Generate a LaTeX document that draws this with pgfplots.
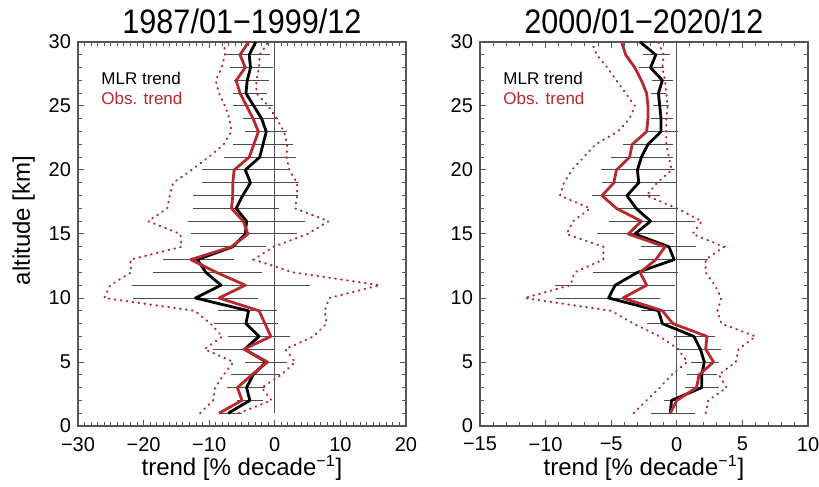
\documentclass[border=0pt]{standalone}
\usepackage{fontspec}
\setmainfont{Liberation Sans}
\newfontfamily\titlefont{Liberation Sans}[FakeStretch=0.9]
\usepackage{pgfplots}
\usepackage{pgfplotstable}
\pgfplotsset{compat=1.18}
\definecolor{obsred}{HTML}{B8282F}
\definecolor{axgray}{HTML}{555555}

% alt: km, mlr/obs: trend, lo/hi: dotted envelope, ec/ee: error bar centre and half width
\pgfplotstableread{
alt mlr obs lo hi ec ee
1 -7.1 -8.5 -11.4 -5.5 -6.70 1.75
2 -3.8 -5.0 -9.4 -0.5 -3.78 2.03
3 -4.3 -5.7 -9.1 -2.0 -4.40 2.90
4 -3.3 -3.5 -7.8 1.0 -2.90 3.70
5 -1.3 -1.1 -6.3 3.1 -1.40 3.20
6 -4.6 -4.7 -10.7 1.6 -4.65 4.75
7 -2.4 -0.6 -8.0 5.9 -2.45 4.75
8 -4.4 -1.5 -9.8 7.9 -4.40 4.90
9 -4.0 -2.4 -12.2 7.6 -4.15 4.45
10 -12.1 -8.5 -26.0 8.3 -12.05 9.55
11 -8.2 -4.5 -25.1 16.0 -8.20 13.50
12 -10.5 -8.9 -21.9 2.8 -10.25 8.25
13 -11.8 -12.8 -22.0 -3.2 -11.65 5.45
14 -6.4 -6.6 -14.2 -0.2 -6.40 5.00
15 -4.5 -4.1 -14.4 5.0 -4.70 8.10
16 -4.3 -4.8 -19.3 8.2 -4.30 8.90
17 -5.9 -6.6 -16.4 3.1 -5.90 6.50
18 -4.9 -6.4 -16.0 3.4 -4.45 8.05
19 -3.7 -6.4 -15.5 3.4 -3.70 7.40
20 -4.5 -6.2 -12.7 2.2 -4.50 6.60
21 -2.3 -3.9 -10.1 1.8 -2.25 5.45
22 -1.8 -3.2 -7.8 1.9 -1.80 4.50
23 -1.3 -2.5 -6.6 1.4 -1.35 3.15
24 -2.0 -3.3 -6.9 0.3 -2.20 2.70
25 -3.2 -4.3 -7.6 -1.0 -3.30 3.00
26 -4.4 -5.3 -8.5 -2.8 -3.75 2.55
27 -4.2 -5.9 -9.0 -2.8 -3.55 2.65
28 -3.7 -4.5 -8.1 -2.4 -3.55 3.35
29 -3.9 -5.3 -7.6 -2.3 -4.15 3.45
30 -2.9 -4.0 -7.7 -1.0 nan nan
}\early

\pgfplotstableread{
alt mlr obs lo hi ec ee
1 -0.5 -0.5 -3.3 2.2 -0.30 1.70
2 -0.4 0.0 -2.3 2.4 -0.55 0.45
3 1.9 1.5 -1.3 3.8 1.90 1.30
4 1.9 1.7 -0.4 3.2 1.95 1.15
5 2.1 2.8 0.8 4.5 2.15 1.05
6 1.8 2.2 0.1 4.7 1.80 1.60
7 1.3 2.3 -1.3 6.0 1.35 1.55
8 -1.1 -0.3 -3.3 3.4 -1.20 1.10
9 -1.4 -1.1 -5.0 3.1 -1.40 1.30
10 -5.2 -4.1 -11.6 3.4 -5.25 3.95
11 -4.7 -2.3 -8.1 2.9 -4.70 4.60
12 -3.0 -2.8 -7.8 2.2 -3.15 3.25
13 -0.2 -1.6 -5.6 2.2 -0.25 2.65
14 -0.6 -0.9 -5.6 3.6 -0.60 2.10
15 -3.2 -3.7 -8.4 1.2 -3.15 2.95
16 -2.0 -2.7 -7.9 1.9 -1.90 3.30
17 -3.1 -4.6 -6.6 0.0 -2.30 2.30
18 -3.8 -5.7 -8.9 -2.3 -3.90 2.60
19 -2.9 -4.8 -8.6 -1.5 -2.85 2.85
20 -3.0 -4.6 -8.0 -0.4 -2.95 2.85
21 -2.7 -3.6 -7.1 -0.6 -2.65 2.35
22 -2.2 -3.4 -6.2 -0.8 -2.20 1.90
23 -1.2 -2.3 -4.5 -0.8 -1.10 1.20
24 -1.2 -2.2 -3.6 -0.8 -1.15 0.85
25 -1.3 -2.2 -3.2 -0.7 -1.20 0.60
26 -1.4 -2.3 -3.9 -0.8 -1.40 0.60
27 -1.1 -2.7 -4.6 -0.9 -1.10 0.80
28 -2.0 -3.2 -5.3 -1.1 -1.95 0.95
29 -1.6 -3.9 -6.1 -1.0 -1.55 1.05
30 -2.8 -4.2 -6.5 -1.4 nan nan
}\late

\pgfplotsset{
  trendpanel/.style={
    scale only axis, width=164pt, height=192pt,
    ymin=0, ymax=30, ytick={0,5,...,30}, minor y tick num=4,
    yticklabels={0,5,10,15,20,25,30},
    tick align=inside, major tick length=3.2pt, minor tick length=1.8pt,
    axis line style={axgray, line width=0.6pt},
    every tick/.style={axgray, line width=0.5pt},
    tick label style={font=\fontsize{10}{12}\selectfont},
    xticklabel style={yshift=-2pt},
    label style={font=\fontsize{12}{14}\selectfont},
    xlabel style={yshift=4.5pt},
    ylabel style={at={(ticklabel cs:0.535)}},
    title style={font=\titlefont\fontsize{17}{20}\selectfont, yshift=-5.5pt},
    xlabel={trend [\% decade\textsuperscript{−1}]},
  },
  errbar/.style={draw=none, forget plot, error bars/.cd, x dir=both, x explicit,
    error mark=none, error bar style={draw=black!70, line width=0.5pt}},
  envelope/.style={obsred, line width=1pt, line cap=round, dash pattern=on 0.4pt off 2.6pt},
  trendline/.style={line width=1.4pt, line join=round},
}

\begin{document}
\begin{tikzpicture}
\path[use as bounding box] (-39pt,-30.5pt) rectangle (370.5pt,213pt);

\begin{axis}[trendpanel,
  xmin=-30, xmax=20, xtick={-30,-20,...,20}, minor x tick num=9,
  xticklabels={−30,−20,−10,0,10,20},
  ylabel={altitude [km]},
  title={1987/01−1999/12}]
\addplot[axgray, line width=0.5pt] coordinates {(0,1) (0,30)};
\addplot[errbar] table[x=ec, y=alt, x error=ee] {\early};
\addplot[envelope] table[x=lo, y=alt] {\early};
\addplot[envelope] table[x=hi, y=alt] {\early};
\addplot[black, trendline] table[x=mlr, y=alt] {\early};
\addplot[obsred, trendline] table[x=obs, y=alt] {\early};
\node[anchor=west, font=\fontsize{8.5}{10}\selectfont] at (rel axis cs:0.05,0.906) {MLR trend};
\node[anchor=west, obsred, font=\fontsize{8.5}{10}\selectfont] at (rel axis cs:0.05,0.854) {Obs. trend};
\end{axis}

\begin{axis}[trendpanel, at={(201pt,0)},
  xmin=-15, xmax=10, xtick={-15,-10,...,10}, minor x tick num=4,
  xticklabels={−15,−10,−5,0,5,10},
  title={2000/01−2020/12}]
\addplot[axgray, line width=0.5pt] coordinates {(0,1) (0,30)};
\addplot[errbar] table[x=ec, y=alt, x error=ee] {\late};
\addplot[envelope] table[x=lo, y=alt] {\late};
\addplot[envelope] table[x=hi, y=alt] {\late};
\addplot[black, trendline] table[x=mlr, y=alt] {\late};
\addplot[obsred, trendline] table[x=obs, y=alt] {\late};
\node[anchor=west, font=\fontsize{8.5}{10}\selectfont] at (rel axis cs:0.05,0.906) {MLR trend};
\node[anchor=west, obsred, font=\fontsize{8.5}{10}\selectfont] at (rel axis cs:0.05,0.854) {Obs. trend};
\end{axis}
\end{tikzpicture}
\end{document}
